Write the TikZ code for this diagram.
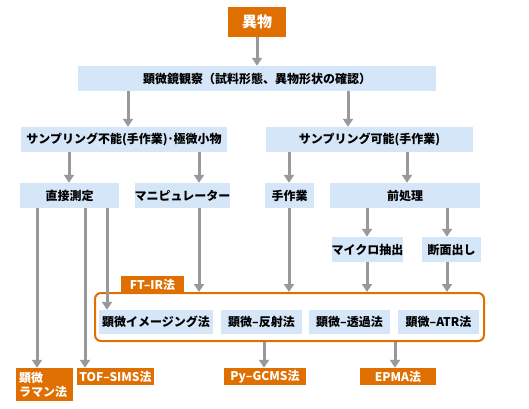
\documentclass[tikz,border=0pt]{standalone}
\usepackage{fontspec}
\setmainfont{Noto Sans CJK JP}
\usetikzlibrary{arrows.meta}
\definecolor{org}{HTML}{DE6F00}
\definecolor{lb}{HTML}{D6E6F9}
\definecolor{gr}{HTML}{999999}
\begin{document}
\begin{tikzpicture}[x=1pt,y=-1pt,
  txt/.style={font=\bfseries\fontsize{12}{14}\selectfont},
  bx/.style={txt, fill=lb, inner sep=0pt, minimum height=25pt},
  ob/.style={txt, fill=org, text=white, inner sep=0pt, minimum height=17pt},
  arr/.style={draw=gr, line width=3pt, -{Triangle[width=10pt,length=8pt]}},
  grp/.style={draw=org, line width=2pt, rounded corners=6pt, inner sep=0pt}]
\useasboundingbox (0,0) rectangle (529,408);
% top
\node[ob, minimum width=58pt, minimum height=30pt, font=\bfseries\fontsize{15}{17}\selectfont] (ibutsu) at (257,22) {異物};
\node[bx, minimum width=358pt] (kenbi) at (257,78.5) {顕微鏡観察（試料形態、異物形状の確認）};
\node[bx, minimum width=206pt] (funou) at (124,139.5) {サンプリング不能(手作業)･極微小物};
\node[bx, minimum width=207pt] (kanou) at (369.5,139.5) {サンプリング可能(手作業)};
\node[bx, minimum width=99pt] (choku) at (69.5,195.5) {直接測定};
\node[bx, minimum width=89pt] (mani) at (182.5,195.5) {マニピュレーター};
\node[bx, minimum width=49pt] (tesa) at (289.5,195.5) {手作業};
\node[bx, minimum width=150pt] (zen) at (405,195.5) {前処理};
\node[bx, minimum width=71pt] (micro) at (367.5,249.5) {マイクロ抽出};
\node[bx, minimum width=59pt] (danmen) at (451.5,249.5) {断面出し};
% group
\node[grp, minimum width=389pt, minimum height=48pt] (group) at (289.5,317) {};
\node[ob, minimum width=63pt] (ftir) at (152.5,284.5) {FT–IR法};
\node[bx, minimum width=114pt, minimum height=24pt] (imaging) at (156,322) {顕微イメージング法};
\node[bx, minimum width=81pt, minimum height=24pt] (hansha) at (261.5,322) {顕微–反射法};
\node[bx, minimum width=81pt, minimum height=24pt] (touka) at (349.5,322) {顕微–透過法};
\node[bx, minimum width=81pt, minimum height=24pt] (atr) at (438.5,322) {顕微–ATR法};
% bottom
\node[ob, minimum width=57pt, minimum height=33pt, align=left, text width=51pt] (raman) at (44.5,384.5) {顕微\\ラマン法};
\node[ob, minimum width=77pt] (tof) at (115.5,376.5) {TOF–SIMS法};
\node[ob, minimum width=82pt] (py) at (265,376.5) {Py–GCMS法};
\node[ob, minimum width=76pt] (epma) at (398,376.5) {EPMA法};
% arrows
\draw[arr] (ibutsu.south) -- (kenbi.north);
\draw[arr] (128,0 |- kenbi.south) -- (128,0 |- funou.north);
\draw[arr] (348,0 |- kenbi.south) -- (348,0 |- kanou.north);
\draw[arr] (69,0 |- funou.south) -- (69,0 |- choku.north);
\draw[arr] (199,0 |- funou.south) -- (199,0 |- mani.north);
\draw[arr] (289,0 |- kanou.south) -- (289,0 |- tesa.north);
\draw[arr] (407,0 |- kanou.south) -- (407,0 |- zen.north);
\draw[arr] (367,0 |- zen.south) -- (367,0 |- micro.north);
\draw[arr] (447,0 |- zen.south) -- (447,0 |- danmen.north);
\draw[arr] (37,0 |- choku.south) -- (37,0 |- raman.north);
\draw[arr] (85,0 |- choku.south) -- (85,0 |- tof.north);
\draw[arr] (107,0 |- choku.south) -- (107,0 |- imaging.north);
\draw[arr] (199,0 |- mani.south) -- (199,0 |- group.north);
\draw[arr] (289,0 |- tesa.south) -- (289,0 |- group.north);
\draw[arr] (367,0 |- micro.south) -- (367,0 |- group.north);
\draw[arr] (447,0 |- danmen.south) -- (447,0 |- group.north);
\draw[arr] (264,0 |- group.south) -- (264,0 |- py.north);
\draw[arr] (395,0 |- group.south) -- (395,0 |- epma.north);
\end{tikzpicture}
\end{document}
